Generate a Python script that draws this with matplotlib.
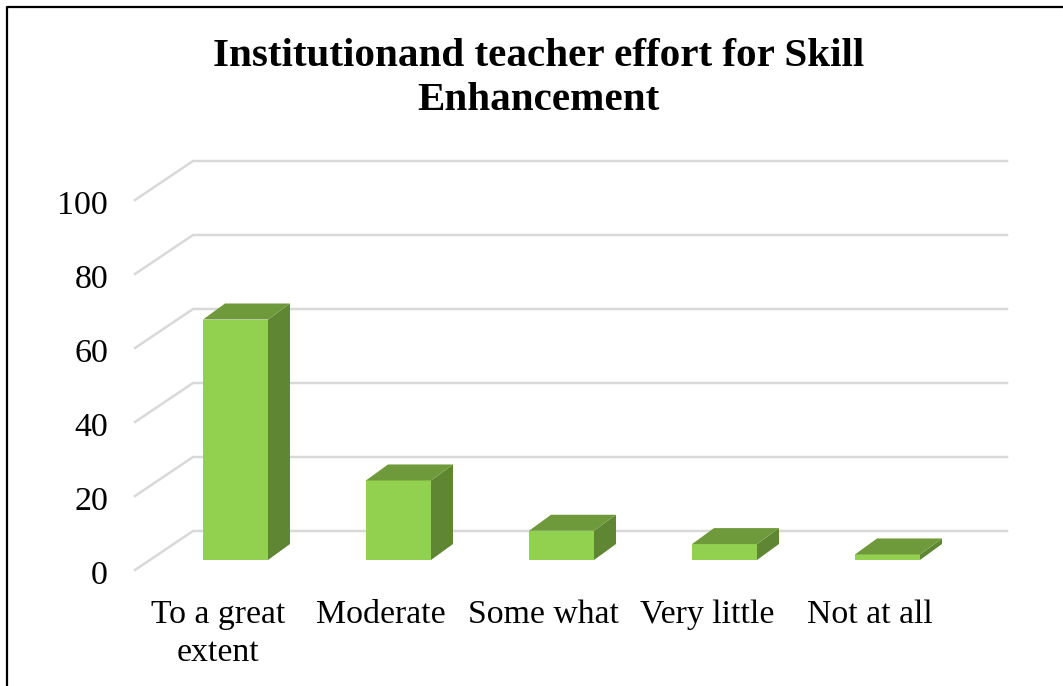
import matplotlib
matplotlib.use("Agg")
import matplotlib.pyplot as plt
from matplotlib.patches import Polygon

categories = ["To a great\nextent", "Moderate", "Some what", "Very little", "Not at all"]
values = [65, 21.5, 7.9, 4.3, 1.5]
y_ticks = [0, 20, 40, 60, 80, 100]
title = "Institutionand teacher effort for Skill\nEnhancement"

W, H = 1063, 686
fig = plt.figure(figsize=(W / 100, H / 100), dpi=100)
ax = fig.add_axes([0, 0, 1, 1])

# one category = 163 px, one unit = 3.7 px, bar base sits at y=560
px_x = 163.0
px_y = 3.7
ax.set_xlim(-235.5 / px_x, (W - 235.5) / px_x)
ax.set_ylim(-(H - 560) / px_y, 560 / px_y)
ax.axis("off")

bar_w = 65 / px_x
dx = 22 / px_x
dy = 16 / px_y

# walls: front edge and back edge of the floor
front_x, front_y = -100.5 / px_x, -10 / px_y
back_x, back_y = -42.5 / px_x, 29 / px_y
end_x = 771.5 / px_x
grid_col = "#d9d9d9"
for t in y_ticks:
    ax.plot([front_x, back_x, end_x], [front_y + t, back_y + t, back_y + t],
            color=grid_col, lw=1.8, solid_joinstyle="miter", zorder=1)
    ax.text(front_x - 27 / px_x, front_y + t - 1.6, str(t), ha="right", va="center",
            family="Liberation Serif", fontsize=24.5, color="black")

for i, v in enumerate(values):
    l = i - bar_w / 2
    r = i + bar_w / 2
    ax.add_patch(Polygon([(l, 0), (r, 0), (r, v), (l, v)], fc="#92d050", ec="none", zorder=3))
    ax.add_patch(Polygon([(r, 0), (r + dx, dy), (r + dx, v + dy), (r, v)], fc="#5f8632", ec="none", zorder=3))
    ax.add_patch(Polygon([(l, v), (r, v), (r + dx, v + dy), (l + dx, v + dy)], fc="#6f9a3b", ec="none", zorder=3))
    ax.text(i - 0.108, -10.8, categories[i], ha="center", va="top", linespacing=1.32,
            family="Liberation Serif", fontsize=24.3, color="black")

fig.text(538.5 / W, 1 - 78.5 / H, title, ha="center", va="center", family="Liberation Serif",
         fontweight="bold", fontsize=29.6, linespacing=1.22, color="black")

# frame of the pasted picture
fig.add_artist(plt.Line2D([7 / W, 7 / W, 1], [0, 1 - 7 / H, 1 - 7 / H], color="black", lw=1.6))

fig.savefig("out.png", dpi=100)
